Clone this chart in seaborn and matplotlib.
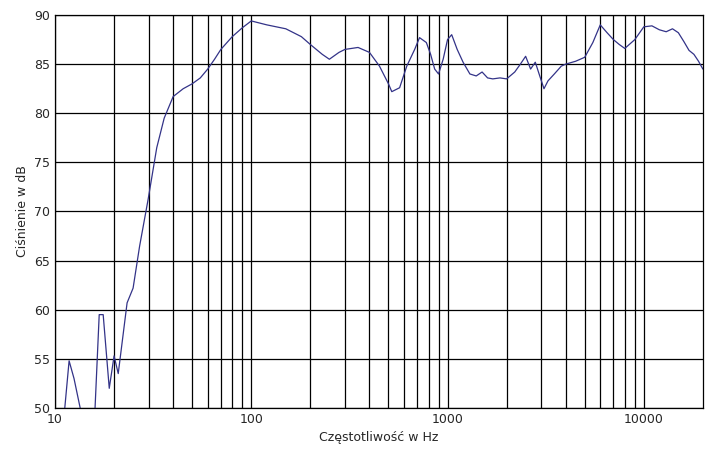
import numpy as np
import pandas as pd
import matplotlib
matplotlib.use("Agg")
import matplotlib.pyplot as plt
import seaborn as sns
from matplotlib.ticker import FixedLocator, NullFormatter

freq = [11.1, 11.8, 12.5, 13.6, 14.5, 15.5, 16.0, 16.8, 17.6, 18.9, 20.0, 21.0, 23.3, 25.0, 27.0, 29.8,
        33, 36, 40, 45, 50, 55, 60, 65, 70, 80, 90, 100, 120, 150, 180, 200, 230, 250, 280, 300, 350, 400,
        450, 500, 520, 570, 620, 680, 720, 780, 820, 860, 900, 950, 1000, 1050, 1120, 1200, 1300, 1400,
        1500, 1600, 1700, 1850, 2000, 2200, 2350, 2500, 2650, 2800, 2950, 3100, 3250, 3500, 3800, 4000,
        4500, 5000, 5500, 6000, 6500, 7000, 7500, 8000, 9000, 10000, 11000, 12000, 13000, 14000, 15000,
        16000, 17000, 18000, 19000, 20000]
spl = [49.0, 54.8, 53.0, 49.5, 48.0, 48.0, 50.0, 59.5, 59.5, 52.0, 55.3, 53.5, 60.7, 62.2, 66.5, 71.2,
       76.5, 79.5, 81.7, 82.5, 83.0, 83.6, 84.5, 85.5, 86.5, 87.8, 88.7, 89.4, 89.0, 88.6, 87.8, 87.0, 86.0,
       85.5, 86.2, 86.5, 86.7, 86.2, 84.8, 83.0, 82.2, 82.6, 84.8, 86.5, 87.7, 87.2, 86.0, 84.5, 84.0, 85.5,
       87.5, 88.0, 86.5, 85.2, 84.0, 83.8, 84.2, 83.6, 83.5, 83.6, 83.5, 84.2, 85.0, 85.8, 84.5, 85.2, 83.8,
       82.5, 83.3, 84.0, 84.8, 85.0, 85.3, 85.7, 87.2, 89.0, 88.2, 87.5, 87.0, 86.6, 87.5, 88.8, 88.9, 88.5,
       88.3, 88.6, 88.2, 87.3, 86.4, 86.0, 85.3, 84.5]

xticks = [10, 100, 1000, 10000]
yticks = [50, 55, 60, 65, 70, 75, 80, 85, 90]

sns.set_style("white")
plt.rcParams['font.family'] = ['DejaVu Sans']
fig, ax = plt.subplots(figsize=(7.05, 4.70), dpi=100)
fig.subplots_adjust(left=0.078, right=0.997, top=0.968, bottom=0.132)

df = pd.DataFrame({"f": freq, "spl": spl})
sns.lineplot(data=df, x="f", y="spl", ax=ax, color="#333388", linewidth=0.9)
ax.set_xscale("log")
ax.set_xlim(10, 20000)
ax.set_ylim(50, 90)
ax.set_yticks(yticks)
minor = [m * 10**d for d in range(1, 5) for m in range(2, 10) if m * 10**d < 20000]
ax.xaxis.set_major_locator(FixedLocator(xticks))
ax.xaxis.set_minor_locator(FixedLocator(minor))
ax.xaxis.set_minor_formatter(NullFormatter())
ax.set_xticklabels([str(t) for t in xticks])
ax.grid(True, which="both", axis="x", color="black", linewidth=0.9)
ax.grid(True, which="major", axis="y", color="black", linewidth=0.9)
for s in ax.spines.values():
    s.set_color("black")
    s.set_linewidth(0.9)
ax.tick_params(labelsize=9, length=0)
ax.set_xlabel("Częstotliwość w Hz", fontsize=9)
ax.set_ylabel("Ciśnienie w dB", fontsize=9)
fig.savefig("out.png", dpi=100)
